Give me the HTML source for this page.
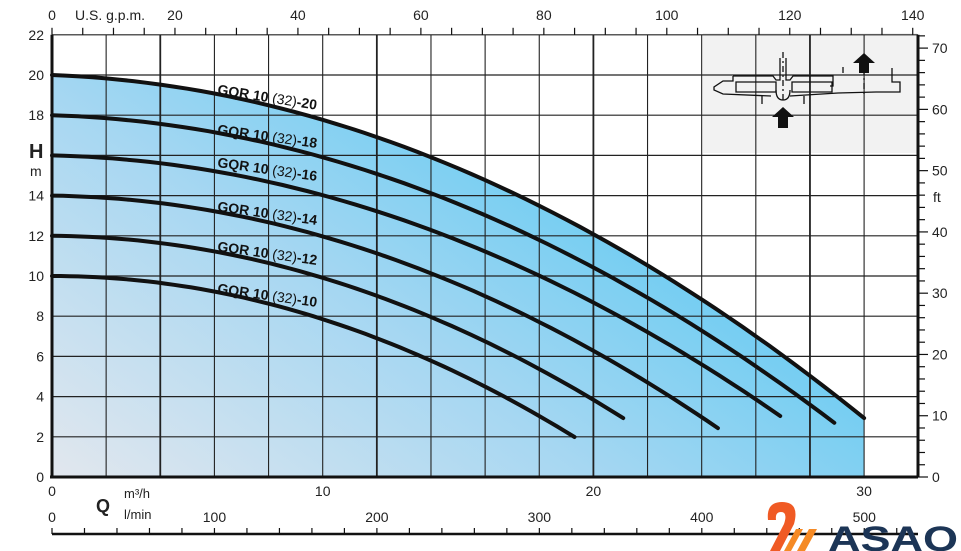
<!DOCTYPE html>
<html><head><meta charset="utf-8"><style>
html,body{margin:0;padding:0;background:#fff;}
svg{display:block;font-family:"Liberation Sans",sans-serif;}
</style></head><body>
<svg id="s" width="961" height="551" viewBox="0 0 961 551" xmlns="http://www.w3.org/2000/svg">
<defs>
<linearGradient id="g" x1="0" y1="1" x2="1" y2="0.3">
<stop offset="0" stop-color="#e2e7ee"/>
<stop offset="0.45" stop-color="#a6d7f2"/>
<stop offset="1" stop-color="#4cc6f3"/>
</linearGradient>
</defs>
<g id="fill"></g>
<rect x="703" y="33" width="214" height="120" fill="#f2f2f2"/>
<g id="grid" stroke="#222" stroke-width="1.2"></g>
<g id="curves" fill="none" stroke="#111" stroke-width="4" stroke-linecap="round"></g>
<g id="ticks" stroke="#111" stroke-width="1.2"></g>
<g id="txt" font-size="14" fill="#222"></g>
<g fill="none" stroke="#111" stroke-width="1.3">
<path d="M733 76 h40 l3 4 h4 v-22 M786 58 v22 h4 l3 -4 h40 v10 h-3 M733 76 v5 h-10 l-9 6 v3 l9 4 l48 2 M790 96 l48 -3 l38 -1 h24 v-10 h-8 v-14"/>
<path d="M736 82 h40 v10 h-40 z M792 82 h40 v10 h-40 z"/>
<path d="M776 90 q0 10 7 10 q7 0 7 -10 M762 96 v8 M804 96 v8 M843 73 v-6"/>
<path d="M783 52 v48 M864 55 v42" stroke-dasharray="6 3 2 3"/>
</g>
<path d="M783 107 l11 10 h-6 v11 h-10 v-11 h-6 z M864 53 l11 10 h-6 v10 h-10 v-10 h-6 z" fill="#111"/>
<path d="M768 520 q-2 -18 14 -18 q18 0 12 22 l-14 27 h-10 l14 -27 q4 -12 -3 -12 q-6 0 -5 8 z" fill="#f05a24"/>
<path d="M784 551 l12 -22 h7 l-12 22 z M797 551 l12 -22 h8 l-12 22 z" fill="#f58a25"/>
<text x="828" y="551" font-size="35" font-weight="bold" fill="#1c3556" textLength="130" lengthAdjust="spacingAndGlyphs">ASAO</text>
</svg>
<script>
const NS="http://www.w3.org/2000/svg";
const X=q=>52+q*27.07, Y=h=>477-h*20.1;
function el(p,t,a,txt){const e=document.createElementNS(NS,t);for(const k in a)e.setAttribute(k,a[k]);if(txt!==undefined)e.textContent=txt;document.getElementById(p).appendChild(e);return e;}
const C=[[20,0.05,0.0173,30],[18,0.04,0.01694,28.9],[16,0.03,0.0168,26.9],[14,0.02,0.0183,24.6],[12,0.01,0.0199,21.1],[10,0,0.0215,19.3]];
function pts(c){let s=[];for(let i=0;i<=60;i++){const q=c[3]*i/60;const h=c[0]-c[1]*q-c[2]*q*q;s.push(X(q).toFixed(1)+","+Y(h).toFixed(1));}return s;}
el("fill","polygon",{points:pts(C[0]).join(" ")+" "+X(30)+","+Y(0)+" "+X(0)+","+Y(0),fill:"url(#g)"});
for(let k=1;k<=15;k++){const x=X(2*k);const thick=(k%4==2);el("grid","line",{x1:x,y1:Y(22),x2:x,y2:Y(0),"stroke-width":thick?1.8:1.1});}
for(let k=1;k<=10;k++){el("grid","line",{x1:52,y1:Y(2*k),x2:918,y2:Y(2*k)});}
el("grid","line",{x1:52,y1:Y(22),x2:918,y2:Y(22)});
el("ticks","line",{x1:52,y1:Y(22),x2:52,y2:Y(0)+1,"stroke-width":3});
el("ticks","line",{x1:50,y1:Y(0),x2:918,y2:Y(0),"stroke-width":3});
el("ticks","line",{x1:918,y1:Y(22),x2:918,y2:Y(0),"stroke-width":3});
C.forEach(c=>el("curves","polyline",{points:pts(c).join(" ")}));
for(let k=0;k<=11;k++){if(k==8)continue;el("txt","text",{x:44,y:Y(2*k)+5,"text-anchor":"end"},String(2*k));}
for(let f=0;f<=72;f+=2){const y=477-f*6.127;el("ticks","line",{x1:918,y1:y,x2:f%10==0?928:925,y2:y});if(f%10==0)el("txt","text",{x:932,y:y+5},String(f));}
for(let g=0;g<=140;g+=5){const x=52+g*6.148;if(x>919)break;el("ticks","line",{x1:x,y1:Y(22),x2:x,y2:Y(22)-7});if(g%20==0)el("txt","text",{x:x,y:20,"text-anchor":"middle"},String(g));}
el("txt","text",{x:75,y:20},"U.S. g.p.m.");
[0,10,20,30].forEach(q=>el("txt","text",{x:X(q),y:496,"text-anchor":"middle"},String(q)));
el("ticks","line",{x1:52,y1:534,x2:918,y2:534,"stroke-width":2.5});
for(let l=0;l<=520;l+=20){const x=52+l*1.6245;if(x>918)break;el("ticks","line",{x1:x,y1:534,x2:x,y2:528});if(l%100==0)el("txt","text",{x:x,y:522,"text-anchor":"middle"},String(l));}
el("txt","text",{x:29,y:158,"font-size":20,"font-weight":"bold"},"H");
el("txt","text",{x:30,y:176},"m");
el("txt","text",{x:933,y:202},"ft");
el("txt","text",{x:96,y:512,"font-size":18,"font-weight":"bold"},"Q");
el("txt","text",{x:124,y:498,"font-size":13},"m³/h");
el("txt","text",{x:124,y:519,"font-size":13},"l/min");
const L=[[20,217,94,9],[18,217,134,8],[16,217,167,8],[14,217,211,8],[12,217,251,8],[10,217,293,8]];
L.forEach(l=>{const t=el("txt","text",{x:l[1],y:l[2],"font-size":14,"font-weight":"bold",fill:"#111",transform:`rotate(${l[3]} ${l[1]} ${l[2]})`});
t.innerHTML=`GQR 10 <tspan font-weight="normal">(32)</tspan>-${l[0]}`;});
</script>
</body></html>
